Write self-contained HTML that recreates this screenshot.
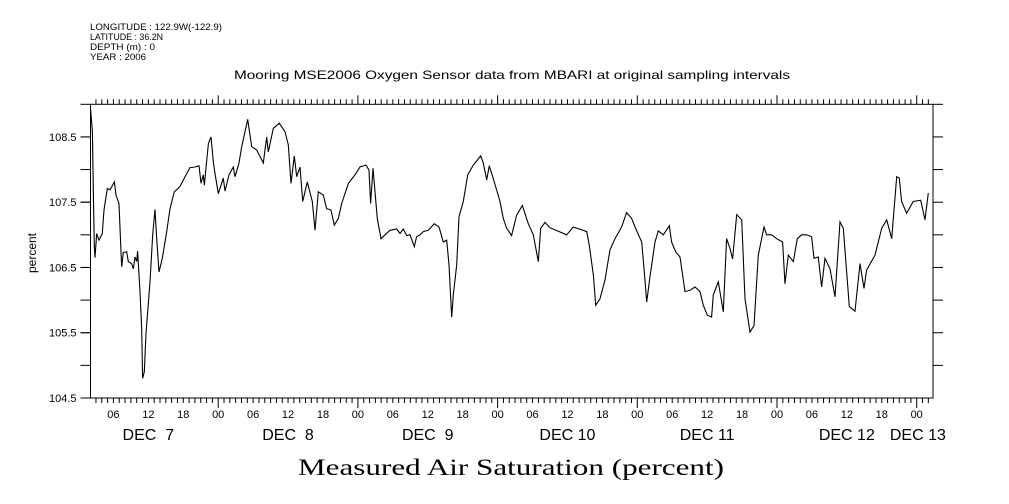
<!DOCTYPE html>
<html><head><meta charset="utf-8">
<style>
body{margin:0;background:#fff;}
svg{display:block;font-family:"Liberation Sans",sans-serif;}
</style></head>
<body>
<svg id="chart" width="1009" height="504" viewBox="0 0 1009 504">
<g font-size="9" fill="#000">
<text x="90" y="30" textLength="132" lengthAdjust="spacingAndGlyphs">LONGITUDE : 122.9W(-122.9)</text>
<text x="90" y="40" textLength="73" lengthAdjust="spacingAndGlyphs">LATITUDE : 36.2N</text>
<text x="90" y="50" textLength="65" lengthAdjust="spacingAndGlyphs">DEPTH (m) : 0</text>
<text x="90" y="60" textLength="56" lengthAdjust="spacingAndGlyphs">YEAR : 2006</text>
</g>
<text x="234" y="79" font-size="12" textLength="556" lengthAdjust="spacingAndGlyphs">Mooring MSE2006 Oxygen Sensor data from MBARI at original sampling intervals</text>
<text transform="translate(36,253) rotate(-90)" font-size="12" text-anchor="middle">percent</text>
<text x="298" y="475" font-size="23" font-family="'Liberation Serif',serif" textLength="426" lengthAdjust="spacingAndGlyphs">Measured Air Saturation (percent)</text>
<g id="axes"></g>
<g id="series"></g>
</svg>
<script>
const times=[2.09,2.38,2.55,2.72,2.83,3.12,3.52,4.09,4.38,4.95,5.41,6.16,6.44,6.96,7.30,7.42,7.70,8.28,8.56,9.13,9.42,9.71,9.99,10.16,10.57,10.85,11.02,11.31,11.60,12.28,12.74,13.14,13.43,13.83,14.40,15.15,15.72,16.46,17.44,18.30,19.15,20.01,20.70,21.04,21.44,21.62,22.31,22.76,23.16,23.45,24.02,24.88,25.17,25.85,26.60,26.89,27.57,28.03,28.60,29.06,29.29,29.75,30.61,31.18,31.75,32.33,32.61,33.47,34.50,35.48,36.05,36.51,37.08,37.48,38.05,38.51,39.31,40.17,40.63,41.20,42.06,42.63,43.38,43.95,44.64,45.21,46.36,47.50,48.36,49.39,49.91,50.19,50.59,51.34,51.97,52.65,53.51,54.66,55.23,55.80,56.38,56.95,57.69,58.09,58.67,59.24,60.10,61.13,61.93,62.68,63.25,63.65,64.11,64.39,64.97,65.37,66.11,66.86,67.83,69.09,69.55,70.12,70.58,71.44,72.41,72.98,73.56,74.41,75.27,76.25,77.28,78.14,79.0,79.40,80.14,81.0,83.86,85.01,87.30,87.76,88.45,88.85,89.59,90.45,91.31,92.17,93.31,94.17,95.03,95.60,96.75,97.21,97.61,98.18,99.04,99.61,100.47,101.50,101.90,102.59,103.33,104.19,105.05,105.91,106.77,107.34,108.03,108.77,109.06,109.92,110.78,111.35,111.92,112.38,113.07,113.93,114.50,115.36,116.05,116.79,117.76,118.22,119.08,119.94,120.97,121.37,121.94,122.80,123.49,124.23,125.09,125.95,126.35,127.10,127.67,128.24,129.10,129.96,130.82,131.39,132.42,133.40,134.26,134.94,135.40,136.83,137.98,138.84,139.70,140.56,141.01,141.41,142.27,143.42,144.68,145.42,146.0];
const values=[108.91,108.58,107.69,106.84,106.65,107.02,106.92,107.02,107.38,107.71,107.69,107.81,107.61,107.48,106.74,106.51,106.73,106.74,106.59,106.56,106.48,106.66,106.59,106.75,106.13,105.56,104.80,104.90,105.49,106.28,107.0,107.39,106.94,106.43,106.64,107.05,107.40,107.66,107.74,107.89,108.03,108.04,108.06,107.79,107.92,107.76,108.40,108.50,108.12,107.94,107.63,107.87,107.67,107.92,108.04,107.89,108.10,108.35,108.58,108.77,108.63,108.35,108.30,108.20,108.10,108.50,108.27,108.63,108.71,108.58,108.38,107.79,108.21,107.89,108.04,107.51,107.81,107.51,107.07,107.66,107.61,107.40,107.38,107.15,107.25,107.48,107.79,107.92,108.04,108.07,107.99,107.48,108.02,107.25,106.94,107.0,107.07,107.09,107.02,107.09,106.99,107.0,106.82,106.97,107.0,107.05,107.07,107.17,107.12,106.89,106.92,106.54,105.74,106.08,106.54,107.28,107.51,107.92,108.07,108.21,108.10,107.84,108.06,107.81,107.51,107.25,107.10,106.99,107.30,107.45,107.17,107.0,106.59,107.10,107.19,107.11,107.0,107.12,107.05,106.84,106.38,105.92,106.02,106.31,106.77,106.94,107.12,107.34,107.25,107.12,106.89,106.43,105.97,106.36,106.89,107.06,107.0,107.14,106.89,106.74,106.66,106.13,106.15,106.20,106.13,105.92,105.77,105.74,106.08,106.28,105.82,106.94,106.79,106.63,107.31,107.23,106.02,105.51,105.61,106.69,107.12,107.0,107.0,106.94,106.89,106.25,106.69,106.59,106.94,107.0,107.0,106.97,106.64,106.66,106.20,106.64,106.48,106.05,107.20,107.10,105.90,105.83,106.56,106.18,106.46,106.69,107.10,107.23,106.94,107.89,107.87,107.51,107.33,107.51,107.53,107.23,107.64];
const yTickValues=[108.5,107.5,106.5,105.5,104.5];
const hourLabels=["06","12","18","00"];
const dayLabels=["DEC\u00a0\u00a07","DEC\u00a0\u00a08","DEC\u00a0\u00a09","DEC 10","DEC 11","DEC 12","DEC 13"];

const NS="http://www.w3.org/2000/svg";
const L=90.5,R=933,T=104.3,B=398;
const X0=78.5,PXH=139.7/24;
const yMin=104.5,yMax=109.0;
function xs(h){return X0+h*PXH;}
function ys(v){return B-(v-yMin)/(yMax-yMin)*(B-T);}
function mk(tag,attrs,parent){const e=document.createElementNS(NS,tag);for(const k in attrs)e.setAttribute(k,attrs[k]);parent.appendChild(e);return e;}
const axes=document.getElementById('axes');
const frame=mk('rect',{x:L,y:T,width:R-L,height:B-T,fill:'none',stroke:'#000','stroke-width':1},axes);


for(let v=105.0;v<=109.0;v+=0.5){
  const y=ys(v);
  const t1=mk('line',{x1:L-10,x2:L,y1:y,y2:y,stroke:'#000'},axes);
  
  
  const t2=mk('line',{x1:R,x2:R+10,y1:y,y2:y,stroke:'#000'},axes);
  
  
}
yTickValues.forEach(v=>{
  const y=ys(v);
  const t1=mk('line',{x1:L-10,x2:L,y1:y,y2:y,stroke:'#000'},axes);
  
  
  const tx=mk('text',{x:L-14,y:y+4,'font-size':11,'text-anchor':'end'},axes);
  tx.textContent=v.toFixed(1);
  
  
});
for(let h=3;h<=147;h++){
  const x=xs(h);if(x<L||x>R)continue;
  const major=h%24===0;
  const a=mk('line',{x1:x,x2:x,y1:T,y2:T-(major?9:5),stroke:'#000'},axes);
  
  
  const b=mk('line',{x1:x,x2:x,y1:B,y2:B+(major?10:5),stroke:'#000'},axes);
  
  
  if(h%6===0){
    const t=mk('text',{x:x,y:B+20,'font-size':11,'text-anchor':'middle'},axes);
    t.textContent=hourLabels[(h/6-1)%4];
    
    
  }
}
dayLabels.forEach((d,i)=>{
  const h=i<6?i*24+12:i*24+0.2;
  const t=mk('text',{x:xs(h),y:B+42,'font-size':16,'text-anchor':'middle'},axes);
  t.textContent=d;
  
  
});
const ser=document.getElementById('series');
const pts=times.map((t,i)=>xs(t).toFixed(1)+','+ys(values[i]).toFixed(1)).join(' ');
const line=mk('polyline',{points:pts,fill:'none',stroke:'#000','stroke-width':1.1},ser);


</script>
</body></html>
